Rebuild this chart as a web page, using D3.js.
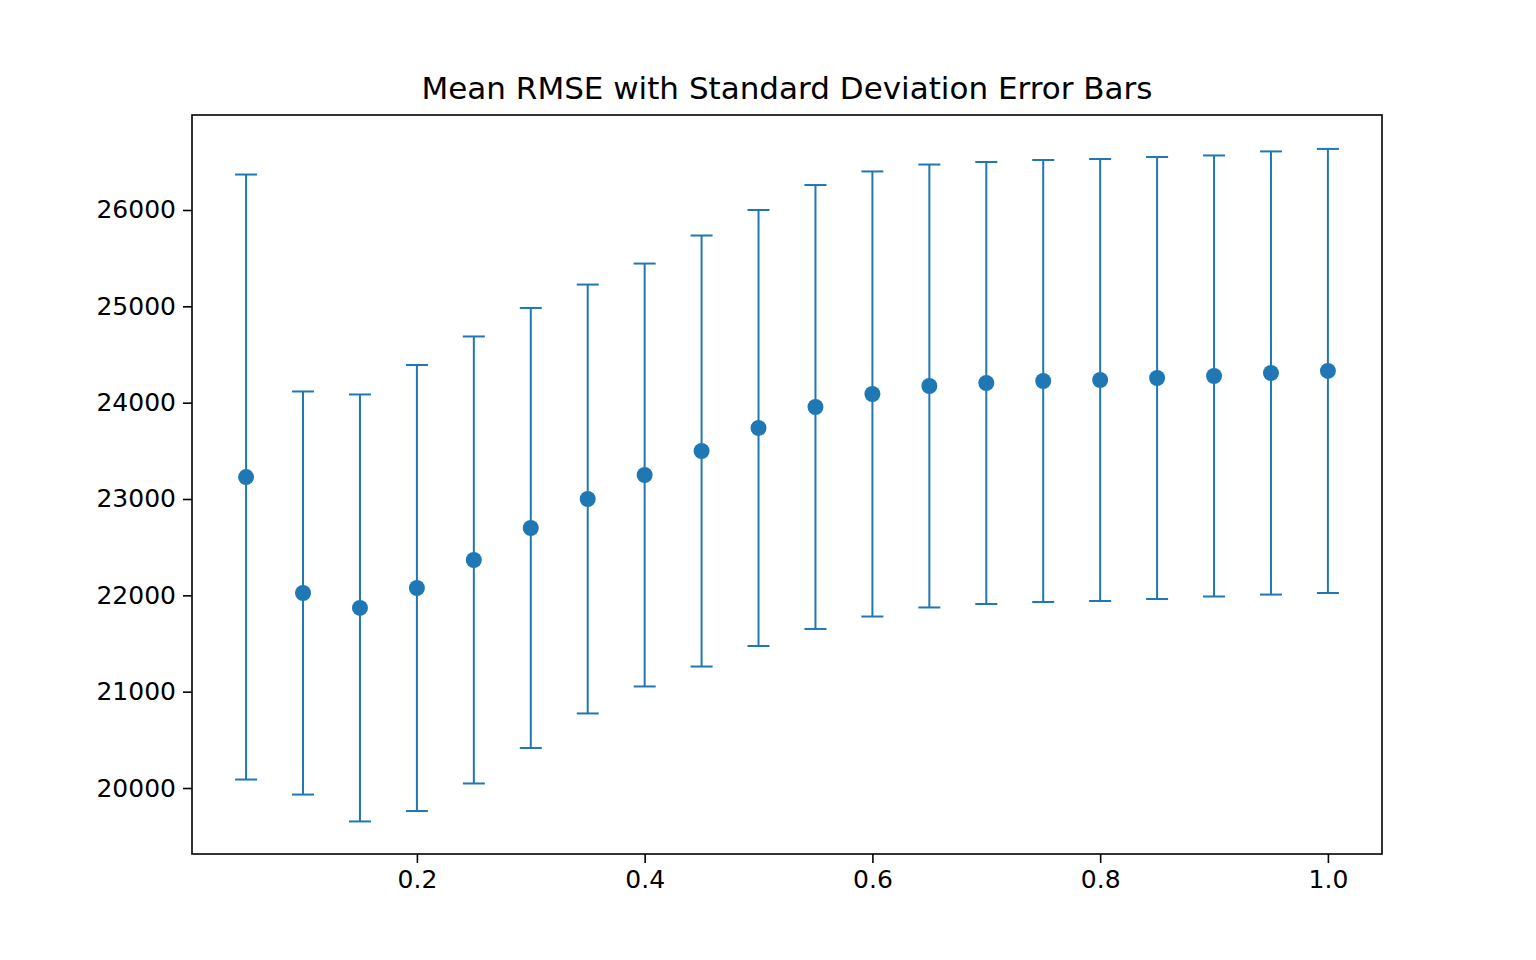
<!DOCTYPE html>
<html>
<head>
<meta charset="utf-8">
<script src="https://cdn.jsdelivr.net/npm/d3@7"></script>
<style>
  body { margin: 0; background: #fff; }
  text { font-family: "DejaVu Sans", sans-serif; fill: #000; }
</style>
</head>
<body>
<svg id="chart" width="1536" height="960"></svg>
<script>
// fractions on the x axis
var fractions = [0.05, 0.10, 0.15, 0.20, 0.25, 0.30, 0.35, 0.40, 0.45, 0.50,
                 0.55, 0.60, 0.65, 0.70, 0.75, 0.80, 0.85, 0.90, 0.95, 1.00];
// mean RMSE per fraction
var meanRmse = [23228, 22024, 21869, 22076, 22367, 22699, 23000, 23249, 23498, 23737,
                23955, 24090, 24173, 24204, 24225, 24235, 24256, 24277, 24308, 24329];
// standard deviation per fraction
var stdRmse = [3140, 2092, 2216, 2315, 2320, 2284, 2226, 2195, 2237, 2263,
               2304, 2310, 2299, 2294, 2294, 2294, 2294, 2289, 2300, 2305];
var xTicks = [0.2, 0.4, 0.6, 0.8, 1.0];
var yTicks = [20000, 21000, 22000, 23000, 24000, 25000, 26000];

var color = "#1f77b4";
var svg = d3.select("#chart");
var plotLeft = 192, plotRight = 1382, plotTop = 115, plotBottom = 854;

var x = d3.scaleLinear().domain([0.0025, 1.0475]).range([plotLeft, plotRight]);
var y = d3.scaleLinear().domain([19315, 26986]).range([plotBottom, plotTop]);

// error bars
var bars = svg.append("g");
fractions.forEach(function (f, i) {
    var lo = y(meanRmse[i] - stdRmse[i]), hi = y(meanRmse[i] + stdRmse[i]);
    bars.append("line").attr("x1", x(f)).attr("x2", x(f)).attr("y1", lo).attr("y2", hi)
        .attr("stroke", color).attr("stroke-width", 2);
    [lo, hi].forEach(function (cy) {
        bars.append("line").attr("x1", x(f) - 11).attr("x2", x(f) + 11)
            .attr("y1", cy).attr("y2", cy).attr("stroke", color).attr("stroke-width", 2);
    });
});

// points
svg.append("g").selectAll("circle").data(fractions).join("circle")
    .attr("cx", d => x(d))
    .attr("cy", (d, i) => y(meanRmse[i]))
    .attr("r", 8)
    .attr("fill", color);

// axes
var xAxis = svg.append("g").attr("transform", "translate(0," + plotBottom + ")")
    .call(d3.axisBottom(x).tickValues(xTicks).tickFormat(d3.format(".1f")).tickSize(9).tickPadding(7));
var yAxis = svg.append("g").attr("transform", "translate(" + plotLeft + ",0)")
    .call(d3.axisLeft(y).tickValues(yTicks).tickFormat(d3.format("d")).tickSize(9).tickPadding(7));
[xAxis, yAxis].forEach(function (a) {
    a.select(".domain").remove();
    a.selectAll("line").attr("stroke-width", 1.6);
    a.selectAll("text").style("font-size", "25px").style("font-family", "DejaVu Sans");
});

svg.append("rect").attr("x", plotLeft).attr("y", plotTop)
    .attr("width", plotRight - plotLeft).attr("height", plotBottom - plotTop)
    .attr("fill", "none").attr("stroke", "#000").attr("stroke-width", 1.6);

svg.append("text").attr("x", (plotLeft + plotRight) / 2).attr("y", 99)
    .attr("text-anchor", "middle").style("font-size", "31px")
    .text("Mean RMSE with Standard Deviation Error Bars");
</script>
</body>
</html>
